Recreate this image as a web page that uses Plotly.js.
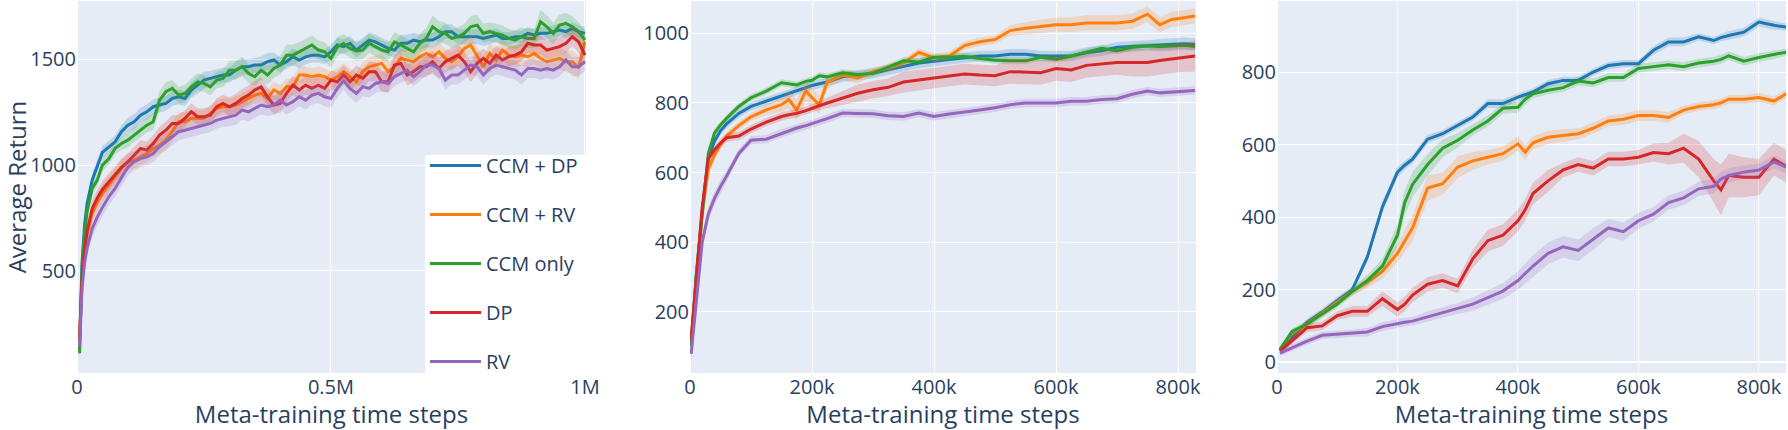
<!DOCTYPE html>
<html>
<head>
<meta charset="utf-8">
<script src="https://cdn.plot.ly/plotly-3.0.1.min.js"></script>
<style>html,body{margin:0;padding:0;background:#fff;}#chart{width:1788px;height:430px;}</style>
</head>
<body>
<div id="chart"></div>
<script>
// ---------------- DATA ----------------
const seriesNames = ['CCM + DP', 'CCM + RV', 'CCM only', 'DP', 'RV'];

// Panel 1: meta-training time steps (thousands)
const stepsK1 = [5,10,15,20,30,40,
  50,62.5,75,87.5,
  100,112.5,125,137.5,150,162.5,175,187.5,
  200,212.5,225,237.5,250,262.5,275,287.5,
  300,312.5,325,337.5,350,362.5,375,387.5,
  400,412.5,425,437.5,450,462.5,475,487.5,
  500,512.5,525,537.5,550,562.5,575,587.5,
  600,612.5,625,637.5,650,662.5,675,687.5,
  700,712.5,725,737.5,750,762.5,775,787.5,
  800,812.5,825,837.5,850,862.5,875,887.5,
  900,912.5,925,937.5,950,962.5,975,987.5,
  1000];
const p1_ccmDP = [130,540,720,820,930,1000,
  1060,1085,1110,1158,
  1189,1205,1236,1252,1276,1284,1292,1315,
  1323,1315,1355,1378,1402,1410,1418,1426,
  1426,1449,1465,1465,1473,1473,1489,1497,
  1473,1489,1512,1497,1512,1520,1520,1512,
  1536,1568,1560,1576,1544,1568,1591,1583,
  1568,1552,1544,1576,1576,1591,1583,1591,
  1591,1607,1631,1631,1607,1607,1607,1607,
  1599,1607,1615,1599,1599,1607,1607,1623,
  1615,1623,1623,1631,1639,1631,1646,1631,
  1623];
const p1_ccmRV = [170,460,590,670,770,825,
  865,905,945,985,
  1016,1024,1039,1055,1079,1094,1118,1158,
  1205,1205,1221,1221,1221,1244,1268,1276,
  1276,1284,1300,1315,1331,1339,1315,1355,
  1339,1370,1370,1426,1426,1418,1426,1418,
  1402,1418,1442,1418,1394,1442,1465,1473,
  1481,1442,1465,1505,1497,1489,1513,1528,
  1513,1536,1505,1489,1513,1552,1568,1513,
  1465,1528,1497,1544,1520,1513,1520,1513,
  1528,1505,1489,1497,1505,1489,1489,1460,
  1585];
const p1_ccmOnly = [110,520,680,780,890,930,
  1000,1030,1079,1102,
  1118,1142,1165,1189,1205,1307,1347,1363,
  1331,1339,1370,1394,1386,1370,1402,1410,
  1449,1449,1465,1434,1418,1449,1426,1457,
  1473,1520,1520,1536,1552,1568,1544,1536,
  1504,1560,1575,1552,1540,1544,1576,1560,
  1544,1536,1583,1568,1552,1536,1576,1599,
  1654,1631,1623,1599,1607,1623,1654,1662,
  1623,1631,1623,1615,1599,1591,1607,1599,
  1599,1678,1654,1623,1662,1670,1654,1631,
  1591];
const p1_dp = [180,470,600,690,795,845,
  885,920,960,990,
  1015,1047,1079,1071,1102,1142,1165,1197,
  1197,1221,1252,1229,1229,1236,1276,1292,
  1276,1292,1315,1331,1355,1370,1323,1284,
  1292,1339,1378,1355,1378,1363,1378,1363,
  1402,1394,1426,1394,1426,1410,1442,1442,
  1394,1394,1473,1481,1426,1442,1465,1465,
  1489,1457,1489,1505,1520,1489,1442,1481,
  1505,1481,1520,1497,1513,1520,1536,1576,
  1568,1568,1544,1552,1560,1576,1607,1583,
  1520];
const p1_rv = [140,420,540,610,700,755,
  800,850,890,940,
  990,1016,1031,1039,1055,1087,1110,1134,
  1158,1165,1173,1181,1189,1197,1213,1221,
  1229,1236,1260,1252,1268,1284,1276,1284,
  1307,1284,1300,1323,1307,1331,1339,1323,
  1315,1363,1400,1363,1339,1371,1363,1386,
  1394,1386,1418,1434,1449,1418,1442,1473,
  1473,1457,1402,1426,1426,1449,1473,1465,
  1426,1457,1473,1465,1457,1449,1426,1457,
  1457,1449,1457,1449,1465,1497,1465,1465,
  1489];
const p1_ccmDP_sd = [50,40,35,30,30,30,
  30,30,30,30,
  35,35,35,35,35,35,35,35,
  35,35,35,40,40,35,35,35,
  35,40,40,35,35,40,40,35,
  35,35,40,40,35,35,35,35,
  35,35,35,35,35,35,35,35,
  35,35,35,40,40,35,35,35,
  35,35,35,35,35,35,35,35,
  35,35,30,30,30,30,30,30,
  30,30,30,30,30,30,30,30,
  30];
const p1_ccmRV_sd = [60,50,45,40,40,40,
  40,40,40,40,
  40,40,40,40,40,40,45,45,
  45,45,40,40,40,40,40,40,
  40,40,40,40,40,40,40,40,
  40,40,40,40,40,40,40,40,
  40,40,40,40,45,45,45,45,
  45,45,45,45,45,45,45,45,
  45,45,45,45,45,45,45,45,
  50,50,50,50,50,50,50,50,
  50,50,50,50,50,50,55,55,
  55];
const p1_ccmOnly_sd = [50,40,35,30,30,30,
  30,30,30,30,
  35,35,35,35,40,45,45,40,
  40,40,40,40,40,40,40,40,
  45,45,45,45,45,45,45,45,
  45,50,50,45,45,45,45,45,
  45,45,45,45,45,45,45,45,
  45,45,45,45,45,45,45,50,
  55,50,50,45,45,45,50,50,
  45,45,45,45,45,45,45,45,
  45,55,55,50,50,50,50,45,
  45];
const p1_dp_sd = [60,50,45,40,40,40,
  40,40,40,40,
  40,40,40,40,40,40,40,40,
  40,40,40,40,40,40,40,40,
  45,45,45,45,45,45,45,45,
  45,45,45,45,45,45,45,45,
  45,45,45,45,45,45,45,45,
  50,50,50,50,50,50,50,50,
  50,50,50,50,50,50,50,50,
  45,45,45,45,45,45,45,45,
  45,45,45,45,45,45,45,50,
  50];
const p1_rv_sd = [50,45,40,40,40,40,
  40,40,40,40,
  40,40,40,40,40,40,40,40,
  40,40,40,40,40,40,40,40,
  45,45,45,45,45,45,45,45,
  45,45,45,45,45,45,45,45,
  45,45,45,45,45,45,45,45,
  45,45,45,45,45,45,45,45,
  45,45,45,45,45,45,45,45,
  45,45,45,45,45,45,45,45,
  45,45,45,45,45,45,45,45,
  45];

// Panel 2
const stepsK2 = [2,10,20,30,40,50,60,80,100,125, 150,162,175,190,200,212,225, 250,275,300,325,350,375,400,425,450,475,500,525,550,575,600,625,650,675,700,725,750, 770,790,810,828];
const p2_ccmDP   = [110,300,490,640,690,720,740,770,790,805, 820,827,835,845,850,855,860, 875,880,885,895,905,915,920,925,930,935,935,940,940,935,935,935,945,950,960,962,965, 966,968,970,968];
const p2_ccmRV   = [130,290,480,610,650,680,705,735,760,780, 795,810,780,835,815,795,860, 880,872,890,900,915,945,930,935,965,976,982,1008,1015,1020,1025,1025,1030,1030,1030,1035,1055, 1025,1040,1045,1050];
const p2_ccmOnly = [100,297,480,655,713,737,756,790,815,834, 858,855,852,862,865,878,875, 887,882,885,902,921,918,931,931,934,928,923,921,921,931,926,935,945,957,950,960,964, 962,964,966,962];
const p2_dp      = [120,300,500,640,665,685,700,705,725,745, 761,766,770,778,785,792,800, 815,828,838,845,860,866,873,878,883,880,878,890,888,887,899,895,908,912,916,916,916, 922,926,930,935];
const p2_rv      = [79,230,400,481,525,560,590,655,693,696, 713,720,728,735,740,748,755, 771,770,769,763,761,771,761,768,773,780,786,795,800,800,800,805,805,810,812,825,834, 829,831,833,836];
const p2_ccmDP_sd   = [30,25,20,15,12,12,12,12,12,12, 12,12,12,12,12,12,12, 15,15,15,15,15,15,15,15,15,15,15,15,15,15,15,15,15,15,15,15,15, 18,18,18,18];
const p2_ccmRV_sd   = [40,30,25,20,15,12,12,12,12,15, 20,25,30,30,30,25,20, 15,15,12,12,12,12,12,12,12,12,12,15,18,20,20,22,22,22,22,22,22, 22,22,22,22];
const p2_ccmOnly_sd = [30,25,20,15,12,10,10,10,10,10, 10,10,10,10,10,10,10, 10,10,10,10,10,10,10,10,10,10,10,10,10,10,10,10,10,10,10,10,10, 10,10,10,10];
const p2_dp_sd      = [30,25,20,15,12,12,12,12,12,12, 12,12,12,12,12,12,15, 20,25,25,25,30,30,30,30,30,30,30,35,35,35,35,35,35,35,35,40,40, 40,40,40,45];
const p2_rv_sd      = [30,30,25,20,20,18,15,12,12,12, 12,12,12,12,12,12,12, 12,12,12,12,12,12,12,12,12,12,12,12,12,12,12,12,12,12,12,12,12, 12,12,12,12];

// Panel 3
const stepsK3 = [5,25,50,75,100,125,150,175,200,212, 225,250,275,300,325,350,375,400,412, 425,450,475,500,525,550,575,600,625,650,675,700,725,737, 750,775,800,825,845];
const p3_ccmDP   = [32,69,110,138,170,200,290,428,524,543, 560,615,630,653,676,713,713,731,738, 745,768,777,777,800,818,823,823,860,883,883,897,887,895, 901,910,938,929,924];
const p3_ccmRV   = [35,80,105,135,165,195,220,250,300,335, 370,480,492,538,555,565,575,602,579, 605,620,625,630,645,665,670,680,680,675,695,705,710,715, 725,725,730,720,740];
const p3_ccmOnly = [35,85,105,132,160,195,225,265,350,440, 490,545,590,612,640,665,700,703,725, 740,750,757,775,770,785,785,810,815,820,815,825,830,835, 845,830,840,848,855];
const p3_dp      = [30,60,95,100,128,140,140,175,145,160, 185,215,225,210,285,335,350,390,420, 465,500,530,545,535,560,560,565,578,575,590,560,500,475, 515,510,510,560,540];
const p3_rv      = [25,40,58,74,77,79,83,98,107,110, 113,125,137,148,160,178,196,225,245, 265,300,318,308,340,370,360,390,408,440,453,478,485,505, 515,524,530,552,538];
const p3_ccmDP_sd   = [8,8,10,10,10,10,12,15,15,12, 12,12,10,10,10,12,12,10,10, 10,10,10,10,10,10,10,10,12,12,12,10,10,10, 12,12,12,12,10];
const p3_ccmRV_sd   = [8,8,10,10,10,12,15,20,25,30, 35,35,30,30,25,20,20,20,20, 18,18,18,15,15,15,15,15,15,15,12,12,12,12, 12,12,12,12,12];
const p3_ccmOnly_sd = [8,8,10,10,10,12,15,20,30,35, 35,30,25,20,15,15,15,15,15, 12,12,12,12,12,12,12,12,12,12,12,12,12,12, 12,12,12,12,10];
const p3_dp_sd      = [8,10,12,12,12,15,15,20,20,20, 20,20,20,20,25,30,30,30,30, 30,30,20,20,20,20,20,20,25,30,40,50,60,70, 60,55,50,45,45];
const p3_rv_sd      = [8,10,10,10,10,10,12,12,12,12, 12,15,15,15,18,20,22,25,28, 30,30,30,30,30,25,25,22,20,20,20,20,20,20, 20,18,18,18,18];

// ---------------- STYLE ----------------
const lineColors = ['#1f77b4', '#ff7f0e', '#2ca02c', '#d62728', '#9467bd'];
const bandColors = ['rgba(31,119,180,0.2)', 'rgba(255,127,14,0.2)', 'rgba(44,160,44,0.2)', 'rgba(214,39,40,0.2)', 'rgba(148,103,189,0.2)'];

const panels = [
  {stepsK: stepsK1, means: [p1_ccmDP, p1_ccmRV, p1_ccmOnly, p1_dp, p1_rv], sds: [p1_ccmDP_sd, p1_ccmRV_sd, p1_ccmOnly_sd, p1_dp_sd, p1_rv_sd]},
  {stepsK: stepsK2, means: [p2_ccmDP, p2_ccmRV, p2_ccmOnly, p2_dp, p2_rv], sds: [p2_ccmDP_sd, p2_ccmRV_sd, p2_ccmOnly_sd, p2_dp_sd, p2_rv_sd]},
  {stepsK: stepsK3, means: [p3_ccmDP, p3_ccmRV, p3_ccmOnly, p3_dp, p3_rv], sds: [p3_ccmDP_sd, p3_ccmRV_sd, p3_ccmOnly_sd, p3_dp_sd, p3_rv_sd]}
];

const traces = [];
panels.forEach((p, pi) => {
  const xs = p.stepsK.map(v => v * 1000);
  const xa = pi === 0 ? 'x' : 'x' + (pi + 1);
  const ya = pi === 0 ? 'y' : 'y' + (pi + 1);
  p.means.forEach((m, si) => {
    const sd = p.sds[si];
    const upper = m.map((v, i) => v + sd[i]);
    const lower = m.map((v, i) => v - sd[i]);
    traces.push({
      x: xs.concat(xs.slice().reverse()),
      y: upper.concat(lower.slice().reverse()),
      xaxis: xa, yaxis: ya,
      type: 'scatter', mode: 'lines', fill: 'toself',
      fillcolor: bandColors[si], line: {width: 0, color: 'rgba(0,0,0,0)'},
      hoverinfo: 'skip', showlegend: false, legendgroup: seriesNames[si]
    });
    traces.push({
      x: xs, y: m, xaxis: xa, yaxis: ya,
      type: 'scatter', mode: 'lines', name: seriesNames[si],
      line: {color: lineColors[si], width: 3},
      legendgroup: seriesNames[si], showlegend: pi === 0
    });
  });
});

const font = {family: '"Open Sans", verdana, arial, sans-serif', color: '#2a3f5f', size: 20};
function ax(extra) {
  return Object.assign({
    gridcolor: 'white', gridwidth: 1, zerolinecolor: 'white', zerolinewidth: 2,
    showline: false, ticks: '', automargin: false, tickfont: {size: 20}
  }, extra);
}
const xTitle = {text: 'Meta-training time steps', font: {size: 24}};

const layout = {
  width: 1788, height: 430,
  margin: {l: 0, r: 0, t: 1, b: 57},
  paper_bgcolor: 'white', plot_bgcolor: '#E5ECF6',
  font: font,
  showlegend: true,
  legend: {
    x: 425 / 1788, xanchor: 'left', y: 1 - 145 / 372, yanchor: 'top',
    bgcolor: 'rgba(0,0,0,0)', borderwidth: 0, font: {size: 20},
    itemwidth: 51, tracegroupgap: 20
  },
  shapes: [{
    type: 'rect', xref: 'paper', yref: 'paper', layer: 'above',
    x0: 425 / 1788, x1: 586 / 1788, y0: 0, y1: 218 / 372,
    fillcolor: 'white', line: {width: 0}
  }],
  xaxis:  ax({domain: [77/1788, 586/1788], range: [0, 1002000], dtick: 500000, anchor: 'y', title: xTitle}),
  yaxis:  ax({domain: [0, 1], range: [17, 1776], dtick: 500, anchor: 'x', title: {text: 'Average Return', font: {size: 24}}}),
  xaxis2: ax({domain: [690/1788, 1196/1788], range: [0, 829500], dtick: 200000, anchor: 'y2', title: xTitle}),
  yaxis2: ax({domain: [0, 1], range: [24, 1093], dtick: 200, anchor: 'x2'}),
  xaxis3: ax({domain: [1277/1788, 1786/1788], range: [0, 845000], dtick: 200000, anchor: 'y3', title: xTitle}),
  yaxis3: ax({domain: [0, 1], range: [-30, 996], dtick: 200, anchor: 'x3'})
};

Plotly.newPlot('chart', traces, layout, {displayModeBar: false, staticPlot: true});
</script>
</body>
</html>
